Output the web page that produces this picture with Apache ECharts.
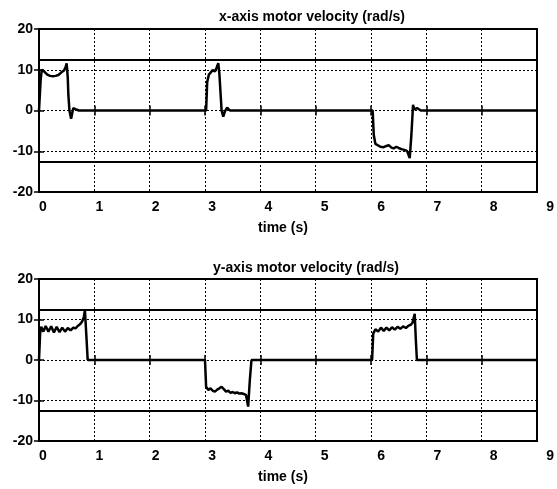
<!DOCTYPE html>
<html>
<head>
<meta charset="utf-8">
<script src="https://cdn.jsdelivr.net/npm/echarts@6/dist/echarts.min.js"></script>
<style>
html,body{margin:0;padding:0;background:#fff;}
#chart{width:557px;height:489px;}
</style>
</head>
<body>
<div id="chart"></div>
<script>
// ---- data ----
const titles = ['x-axis motor velocity (rad/s)', 'y-axis motor velocity (rad/s)'];
const xAxisName = 'time (s)';
const timeTicks = [0, 1, 2, 3, 4, 5, 6, 7, 8, 9];
const velTicks = [-20, -10, 0, 10, 20];
const velLimit = [12.5, -12.5];

// x-axis motor: time (s) and velocity (rad/s)
const xMotorTime = [0, 0.02, 0.03, 0.05, 0.10, 0.15, 0.20, 0.25, 0.30, 0.35, 0.40, 0.45, 0.48, 0.50, 0.52, 0.53, 0.55, 0.58, 0.62, 0.66, 0.72,
  3.02, 3.04, 3.07, 3.10, 3.14, 3.18, 3.21, 3.24, 3.26, 3.30, 3.33, 3.36, 3.40, 3.45,
  6.03, 6.05, 6.08, 6.11, 6.17, 6.23, 6.28, 6.32, 6.37, 6.41, 6.46, 6.50, 6.55, 6.59, 6.65, 6.70, 6.73, 6.76, 6.78, 6.83, 6.90, 9];
const xMotorVel = [0, 5, 7.5, 10.0, 9.5, 8.8, 8.5, 8.4, 8.5, 8.7, 9.3, 9.8, 10.6, 11.6, 8, 4, 0, -2, 0.6, 0.3, 0,
  0, 7, 8.8, 9.2, 9.9, 9.6, 10.5, 11.6, 9, 0, -1.5, -0.2, 0.7, 0,
  0, -6, -8.2, -8.6, -8.9, -9.0, -8.7, -8.5, -9.1, -9.3, -8.9, -9.2, -9.5, -9.6, -9.9, -11.7, -6, 1.4, 0.3, 0.6, 0, 0];

// y-axis motor: time (s) and velocity (rad/s)
const yMotorTime = [0, 0.02, 0.04, 0.08, 0.12, 0.17, 0.22, 0.27, 0.32, 0.37, 0.42, 0.47, 0.52, 0.57, 0.62, 0.66, 0.70, 0.74, 0.78, 0.81, 0.83, 0.86, 0.88,
  3.00, 3.02, 3.06, 3.10, 3.14, 3.18, 3.22, 3.26, 3.30, 3.34, 3.38, 3.42, 3.46, 3.50, 3.54, 3.58, 3.62, 3.66, 3.70, 3.74, 3.78, 3.81, 3.84,
  6.02, 6.04, 6.08, 6.13, 6.18, 6.23, 6.28, 6.33, 6.38, 6.43, 6.48, 6.53, 6.58, 6.63, 6.68, 6.72, 6.75, 6.79, 6.81, 6.83, 9];
const yMotorVel = [0, 6.5, 8.2, 7.0, 8.4, 7.0, 8.3, 6.8, 8.2, 6.9, 8.0, 7.0, 7.9, 7.3, 8.0, 7.8, 8.4, 8.8, 9.5, 10.6, 12.3, 5, 0,
  0, -6.6, -7.4, -7.0, -7.6, -7.8, -7.3, -7.0, -6.6, -7.2, -7.8, -7.6, -8.1, -7.9, -8.2, -8.0, -8.3, -8.2, -8.4, -8.6, -11.5, -5, 0,
  0, 6.5, 7.6, 7.0, 8.0, 7.2, 8.0, 7.3, 8.1, 7.5, 8.2, 7.7, 8.3, 7.9, 8.5, 8.7, 9.2, 11.4, 5, 0, 0];

const seriesT = [xMotorTime, yMotorTime];
const seriesV = [xMotorVel, yMotorVel];

// ---- layout ----
const FONT = '"Liberation Sans", Arial, sans-serif';
const plots = [
  {top: 29, height: 163, titleX: 307, titleY: 5},
  {top: 279, height: 162, titleX: 301, titleY: 256}
];
const grids = [], xAxes = [], yAxes = [], series = [], titleList = [];
const dotted = {show: true, lineStyle: {color: '#000', width: 1, type: [2, 2]}};
const tick = {show: true, inside: true, length: 5, lineStyle: {color: '#000', width: 1.5}};

plots.forEach((p, i) => {
  const g = grids.length;
  grids.push({left: 39, width: 498, top: p.top, height: p.height, show: true,
    borderColor: '#000', borderWidth: 2, backgroundColor: 'transparent'});
  // label grid (tick labels sit slightly offset as in the reference)
  grids.push({left: 43, width: 508, top: p.top, height: p.height, show: false});

  const xi = xAxes.length;
  xAxes.push({gridIndex: g, type: 'value', min: timeTicks[0], max: timeTicks[timeTicks.length - 1], interval: 1,
    axisLine: {show: false}, axisTick: tick, axisLabel: {show: false}, splitLine: dotted,
    name: xAxisName, nameLocation: 'middle', nameGap: 29,
    nameTextStyle: {fontFamily: FONT, fontWeight: 'bold', fontSize: 14, color: '#000', padding: [0, 10, 0, 0]}});
  xAxes.push({gridIndex: g, type: 'value', position: 'top', min: timeTicks[0], max: timeTicks[timeTicks.length - 1], interval: 1,
    axisLine: {show: false}, axisTick: tick, axisLabel: {show: false}, splitLine: {show: false}});
  xAxes.push({gridIndex: g + 1, type: 'value', min: timeTicks[0], max: timeTicks[timeTicks.length - 1], interval: 1,
    axisLine: {show: false}, axisTick: {show: false}, splitLine: {show: false},
    axisLabel: {show: true, margin: 8, fontFamily: FONT, fontWeight: 'bold', fontSize: 14, color: '#000',
      formatter: v => timeTicks.includes(v) ? String(v) : ''}});

  const yi = yAxes.length;
  yAxes.push({gridIndex: g, type: 'value', min: velTicks[0], max: velTicks[velTicks.length - 1], interval: 10,
    axisLine: {show: false}, axisTick: tick, splitLine: dotted,
    axisLabel: {show: true, margin: 6, fontFamily: FONT, fontWeight: 'bold', fontSize: 14, color: '#000'}});
  yAxes.push({gridIndex: g, type: 'value', position: 'right', min: velTicks[0], max: velTicks[velTicks.length - 1], interval: 10,
    axisLine: {show: false}, axisTick: tick, axisLabel: {show: false}, splitLine: {show: false}});
  yAxes.push({gridIndex: g + 1, type: 'value', show: false, min: -20, max: 20});

  series.push({
    type: 'line', xAxisIndex: xi, yAxisIndex: yi,
    data: seriesT[i].map((t, k) => [t, seriesV[i][k]]),
    showSymbol: false, symbol: 'none', animation: false,
    lineStyle: {color: '#000', width: 2.5}, itemStyle: {color: '#000'},
    markLine: {
      silent: true, symbol: ['none', 'none'], animation: false,
      label: {show: false},
      lineStyle: {color: '#000', width: 2, type: 'solid'},
      data: velLimit.map(v => ({yAxis: v}))
    }
  });

  titleList.push({text: titles[i], left: p.titleX, top: p.titleY, textAlign: 'center',
    textStyle: {fontFamily: FONT, fontWeight: 'bold', fontSize: 14, color: '#000'}});
});

const chart = echarts.init(document.getElementById('chart'), null, {renderer: 'canvas'});
chart.setOption({
  backgroundColor: '#fff',
  animation: false,
  title: titleList,
  grid: grids,
  xAxis: xAxes,
  yAxis: yAxes,
  series: series
});
</script>
</body>
</html>
